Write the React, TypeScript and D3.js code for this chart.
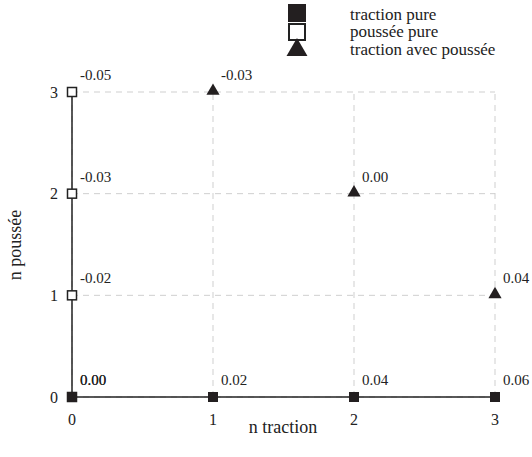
import React from "react";
import * as d3 from "d3";

const tractionX = [0, 1, 2, 3];
const tractionY = [0, 0, 0, 0];
const tractionLabels = ["0.00", "0.02", "0.04", "0.06"];

const pousseeX = [0, 0, 0, 0];
const pousseeY = [0, 1, 2, 3];
const pousseeLabels = ["0.00", "-0.02", "-0.03", "-0.05"];

const mixX = [1, 2, 3];
const mixY = [3, 2, 1];
const mixLabels = ["-0.03", "0.00", "0.04"];

const xTicks = [0, 1, 2, 3];
const yTicks = [0, 1, 2, 3];
const legendNames = ["traction pure", "poussée pure", "traction avec poussée"];

const FONT = "Liberation Serif, DejaVu Serif, Times New Roman, serif";

export default function App() {
  const W = 532, H = 457;
  const x = d3.scaleLinear().domain([0, 3]).range([72, 495]);
  const y = d3.scaleLinear().domain([0, 3]).range([397, 92]);
  const lineGen = d3.line<[number, number]>().x(d => x(d[0])).y(d => y(d[1]));
  const tractionPath = lineGen(tractionX.map((v, i) => [v, tractionY[i]] as [number, number]));
  const pousseePath = lineGen(pousseeX.map((v, i) => [v, pousseeY[i]] as [number, number]));
  const tri = d3.symbol().type(d3.symbolTriangle).size(75)();
  const triLegend = d3.symbol().type(d3.symbolTriangle).size(190)();
  return (
    <svg width={W} height={H} style={{ position: "absolute", left: 0, top: 0, background: "#fff", fontFamily: FONT }}>
      {xTicks.map(t => (
        <line key={"gx" + t} x1={x(t)} x2={x(t)} y1={y(0)} y2={y(3)} stroke="#cfcfcf" strokeWidth={1} strokeDasharray="6,5" />
      ))}
      {yTicks.map(t => (
        <line key={"gy" + t} x1={x(0)} x2={x(3)} y1={y(t)} y2={y(t)} stroke="#cfcfcf" strokeWidth={1} strokeDasharray="6,5" />
      ))}
      {yTicks.map(t => (
        <g key={"yt" + t}>
          <line x1={x(0) - 5} x2={x(0)} y1={y(t)} y2={y(t)} stroke="#222" strokeWidth={1} />
          <text x={x(0) - 14} y={y(t)} dy="0.35em" textAnchor="end" fontSize={16} fill="#222">{t}</text>
        </g>
      ))}
      {xTicks.map(t => (
        <g key={"xt" + t}>
          <line x1={x(t)} x2={x(t)} y1={y(0)} y2={y(0) + 5} stroke="#222" strokeWidth={1} />
          <text x={x(t)} y={y(0) + 28} textAnchor="middle" fontSize={16} fill="#222">{t}</text>
        </g>
      ))}
      <path d={tractionPath || ""} fill="none" stroke="#222" strokeWidth={1.5} />
      <path d={pousseePath || ""} fill="none" stroke="#222" strokeWidth={1.5} />
      {pousseeX.map((v, i) => (
        <g key={"p" + i}>
          <rect x={x(v) - 4.5} y={y(pousseeY[i]) - 4.5} width={9} height={9} fill="#fff" stroke="#222" strokeWidth={1.5} />
          <text x={x(v) + 8} y={y(pousseeY[i]) - 12} fontSize={15} fill="#222">{pousseeLabels[i]}</text>
        </g>
      ))}
      {tractionX.map((v, i) => (
        <g key={"t" + i}>
          <rect x={x(v) - 5} y={y(tractionY[i]) - 5} width={10} height={10} fill="#231f20" />
          <text x={x(v) + 8} y={y(tractionY[i]) - 12} fontSize={15} fill="#222">{tractionLabels[i]}</text>
        </g>
      ))}
      {mixX.map((v, i) => (
        <g key={"m" + i}>
          <path d={tri || ""} transform={`translate(${x(v)},${y(mixY[i]) - 1})`} fill="#231f20" />
          <text x={x(v) + 8} y={y(mixY[i]) - 12} fontSize={15} fill="#222">{mixLabels[i]}</text>
        </g>
      ))}
      <text x={283} y={433} textAnchor="middle" fontSize={18} fill="#222">n traction</text>
      <text transform={`translate(21,245) rotate(-90)`} textAnchor="middle" fontSize={18} fill="#222">n poussée</text>
      <rect x={288} y={4} width={18} height={18} fill="#231f20" />
      <rect x={289} y={24} width={16} height={16} fill="#fff" stroke="#222" strokeWidth={2} />
      <path d={triLegend || ""} transform="translate(297,50)" fill="#231f20" />
      {legendNames.map((n, i) => (
        <text key={n} x={350} y={14 + i * 17.5} dy="0.35em" fontSize={17} fill="#222">{n}</text>
      ))}
    </svg>
  );
}
